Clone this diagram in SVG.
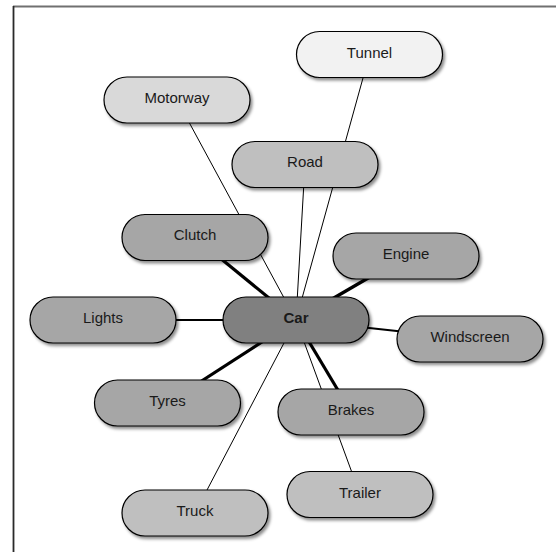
<svg xmlns="http://www.w3.org/2000/svg" width="556" height="552" viewBox="0 0 556 552">
  <defs>
    <filter id="shadow" x="-10%" y="-20%" width="125%" height="150%">
      <feDropShadow dx="2" dy="2.5" stdDeviation="1.6" flood-color="#000" flood-opacity="0.45"/>
    </filter>
    <style>
      .node rect { stroke: #000; stroke-width: 1.2; filter: url(#shadow); }
      .node text { font-family: "Liberation Sans", Arial, sans-serif; font-size: 15px; fill: #1a1a1a; text-anchor: middle; }
      .thin { stroke: #000; stroke-width: 1; fill: none; }
      .mid { stroke: #000; stroke-width: 2; fill: none; }
      .thick { stroke: #000; stroke-width: 3.2; fill: none; }
      .l0 { fill: #808080; }
      .l1 { fill: #a6a6a6; }
      .l2 { fill: #bfbfbf; }
      .l3 { fill: #d9d9d9; }
      .l4 { fill: #f2f2f2; }
    </style>
  </defs>

  <rect x="0" y="0" width="556" height="552" fill="#ffffff"/>

  <!-- page frame: top and left edges -->
  <line x1="13" y1="6.5" x2="556" y2="6.5" stroke="#707070" stroke-width="2"/>
  <line x1="13.5" y1="6" x2="13.5" y2="552" stroke="#2a2a2a" stroke-width="1.8"/>

  <!-- connectors, all radiating from Car -->
  <g id="connectors">
    <line class="thin" x1="296" y1="320" x2="177" y2="100"/>
    <line class="thin" x1="296" y1="320" x2="369.5" y2="54.5"/>
    <line class="thin" x1="296" y1="320" x2="305" y2="164"/>
    <line class="thick" x1="296" y1="320" x2="195" y2="237.5"/>
    <line class="thick" x1="296" y1="320" x2="406" y2="256"/>
    <line class="mid" x1="296" y1="320" x2="103" y2="320"/>
    <line class="mid" x1="296" y1="320" x2="470" y2="339"/>
    <line class="thick" x1="296" y1="320" x2="167.5" y2="403"/>
    <line class="thin" x1="296" y1="320" x2="195" y2="513"/>
    <line class="thick" x1="296" y1="320" x2="351" y2="412"/>
    <line class="thin" x1="296" y1="320" x2="360" y2="494.5"/>
  </g>

  <g id="tunnel" class="node">
    <rect class="l4" x="296.5" y="31.5" width="146" height="46" rx="23"/>
    <text x="369.5" y="57.5">Tunnel</text>
  </g>
  <g id="motorway" class="node">
    <rect class="l3" x="104" y="77" width="146" height="46" rx="23"/>
    <text x="177" y="103">Motorway</text>
  </g>
  <g id="road" class="node">
    <rect class="l2" x="232" y="141.5" width="146" height="46" rx="23"/>
    <text x="305" y="167">Road</text>
  </g>
  <g id="clutch" class="node">
    <rect class="l1" x="122" y="214.5" width="146" height="46" rx="23"/>
    <text x="195" y="240">Clutch</text>
  </g>
  <g id="engine" class="node">
    <rect class="l1" x="333" y="233" width="146" height="46" rx="23"/>
    <text x="406" y="259">Engine</text>
  </g>
  <g id="lights" class="node">
    <rect class="l1" x="30" y="297" width="146" height="46" rx="23"/>
    <text x="103" y="323">Lights</text>
  </g>
  <g id="car" class="node">
    <rect class="l0" x="223" y="297" width="146" height="46" rx="23"/>
    <text x="296" y="323" font-weight="bold">Car</text>
  </g>
  <g id="windscreen" class="node">
    <rect class="l1" x="397" y="316" width="146" height="46" rx="23"/>
    <text x="470" y="341.5">Windscreen</text>
  </g>
  <g id="tyres" class="node">
    <rect class="l1" x="94.5" y="380" width="146" height="46" rx="23"/>
    <text x="167.5" y="406">Tyres</text>
  </g>
  <g id="brakes" class="node">
    <rect class="l1" x="278" y="389" width="146" height="46" rx="23"/>
    <text x="351" y="415">Brakes</text>
  </g>
  <g id="truck" class="node">
    <rect class="l2" x="122" y="490" width="146" height="46" rx="23"/>
    <text x="195" y="516">Truck</text>
  </g>
  <g id="trailer" class="node">
    <rect class="l2" x="287" y="471.5" width="146" height="46" rx="23"/>
    <text x="360" y="497.5">Trailer</text>
  </g>
</svg>
